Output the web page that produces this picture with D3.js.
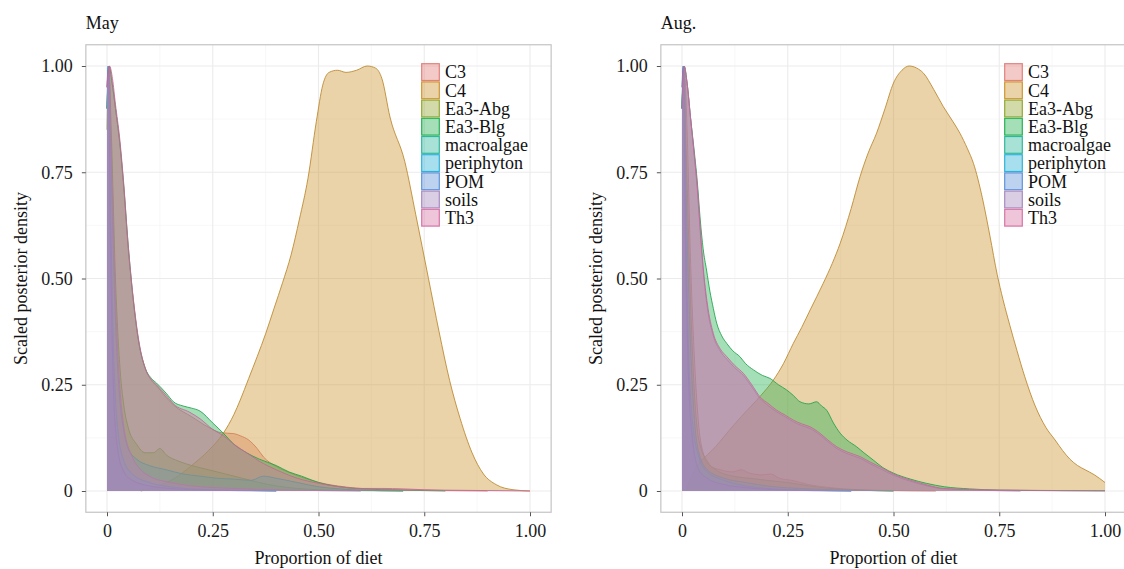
<!DOCTYPE html>
<html>
<head>
<meta charset="utf-8">
<script src="https://cdn.jsdelivr.net/npm/d3@7"></script>
<style>
  body { margin: 0; background: #fff; }
  svg { display: block; font-family: "Liberation Serif", "DejaVu Serif", serif; }
</style>
</head>
<body>
<div id="chart"></div>
<script>
// sources, in legend / drawing order
const sources = ["C3", "C4", "Ea3-Abg", "Ea3-Blg", "macroalgae", "periphyton", "POM", "soils", "Th3"];
const colors = ["#E2807D", "#CF9531", "#93A832", "#27B255", "#2FB89C", "#2FB2D8", "#5F93DA", "#A88ABF", "#D874A8"];
const xTicks = [0, 0.25, 0.5, 0.75, 1];
const yTicks = [0, 0.25, 0.5, 0.75, 1];

// May: [proportion, scaled density]
const mayC3 = [[0,0.9],[0.005,1],[0.012,0.96],[0.02,0.9],[0.03,0.82],[0.039,0.72],[0.05,0.57],[0.062,0.45],[0.075,0.35],[0.09,0.29],[0.105,0.26],[0.117,0.248],[0.14,0.22],[0.16,0.2],[0.2,0.175],[0.24,0.15],[0.27,0.137],[0.3,0.135],[0.315,0.13],[0.335,0.12],[0.355,0.1],[0.37,0.08],[0.4,0.058],[0.44,0.04],[0.48,0.026],[0.52,0.016],[0.56,0.01],[0.6,0.006],[0.7,0.003],[0.8,0.001],[0.9,0]];
const mayC4 = [[0.08,0],[0.12,0.012],[0.16,0.03],[0.2,0.06],[0.24,0.095],[0.275,0.136],[0.3,0.18],[0.315,0.214],[0.335,0.265],[0.355,0.316],[0.375,0.37],[0.395,0.43],[0.415,0.49],[0.435,0.555],[0.455,0.64],[0.475,0.735],[0.495,0.87],[0.51,0.955],[0.525,0.985],[0.545,0.99],[0.565,0.985],[0.59,0.99],[0.615,1],[0.635,0.995],[0.65,0.97],[0.669,0.88],[0.704,0.775],[0.73,0.65],[0.76,0.5],[0.785,0.375],[0.81,0.26],[0.835,0.17],[0.863,0.09],[0.89,0.04],[0.92,0.015],[0.96,0.003],[1,0]];
const mayEa3Abg = [[0,0.85],[0.004,1],[0.01,0.85],[0.02,0.5],[0.03,0.3],[0.04,0.2],[0.05,0.15],[0.07,0.11],[0.09,0.09],[0.11,0.09],[0.125,0.1],[0.14,0.085],[0.17,0.07],[0.2,0.06],[0.24,0.05],[0.28,0.04],[0.32,0.03],[0.36,0.02],[0.4,0.012],[0.45,0.006],[0.5,0.003],[0.6,0.001],[0.7,0]];
const mayEa3Blg = [[0,0.9],[0.005,1],[0.012,0.96],[0.02,0.9],[0.03,0.82],[0.039,0.725],[0.05,0.58],[0.062,0.45],[0.075,0.35],[0.09,0.29],[0.105,0.265],[0.117,0.254],[0.14,0.23],[0.157,0.21],[0.18,0.2],[0.2,0.195],[0.22,0.188],[0.25,0.16],[0.275,0.136],[0.3,0.11],[0.33,0.09],[0.36,0.075],[0.4,0.06],[0.43,0.045],[0.46,0.035],[0.5,0.02],[0.55,0.01],[0.6,0.005],[0.7,0.002],[0.8,0]];
const mayMacroalgae = [[0,0.9],[0.004,1],[0.01,0.75],[0.02,0.4],[0.03,0.22],[0.04,0.14],[0.05,0.1],[0.07,0.075],[0.1,0.06],[0.14,0.05],[0.18,0.04],[0.22,0.035],[0.26,0.03],[0.3,0.028],[0.34,0.025],[0.37,0.035],[0.4,0.03],[0.45,0.02],[0.5,0.01],[0.55,0.005],[0.6,0.002],[0.7,0]];
const mayPeriphyton = [[0,0.9],[0.003,1],[0.008,0.7],[0.015,0.35],[0.025,0.15],[0.04,0.07],[0.06,0.04],[0.1,0.02],[0.15,0.01],[0.2,0.005],[0.3,0.002],[0.4,0]];
const mayPOM = [[0,0.95],[0.003,1],[0.008,0.6],[0.015,0.25],[0.025,0.1],[0.04,0.045],[0.06,0.025],[0.1,0.012],[0.15,0.006],[0.2,0.003],[0.3,0.001],[0.4,0]];
const maySoils = [[0,0.95],[0.004,1],[0.01,0.8],[0.02,0.45],[0.03,0.25],[0.04,0.15],[0.06,0.08],[0.08,0.05],[0.1,0.035],[0.15,0.02],[0.2,0.012],[0.3,0.006],[0.4,0.003],[0.5,0.001],[0.6,0]];
const mayTh3 = [[0,0.95],[0.006,1],[0.013,0.97],[0.02,0.91],[0.03,0.83],[0.039,0.73],[0.05,0.58],[0.062,0.455],[0.075,0.355],[0.09,0.29],[0.105,0.262],[0.117,0.25],[0.14,0.225],[0.157,0.205],[0.196,0.185],[0.22,0.17],[0.25,0.145],[0.275,0.13],[0.3,0.11],[0.33,0.09],[0.36,0.07],[0.4,0.05],[0.45,0.03],[0.5,0.018],[0.55,0.01],[0.6,0.006],[0.65,0.006],[0.7,0.005],[0.75,0.003],[0.8,0.002],[0.9,0.001],[1,0]];

// Aug.
const augC3 = [[0,0.9],[0.005,1],[0.012,0.85],[0.02,0.55],[0.03,0.3],[0.04,0.15],[0.05,0.09],[0.065,0.06],[0.09,0.05],[0.12,0.045],[0.14,0.05],[0.16,0.042],[0.19,0.038],[0.21,0.04],[0.23,0.03],[0.26,0.025],[0.3,0.015],[0.35,0.008],[0.4,0.004],[0.5,0.001],[0.6,0]];
const augC4 = [[0.01,0],[0.025,0.04],[0.04,0.065],[0.06,0.085],[0.08,0.105],[0.106,0.136],[0.14,0.175],[0.184,0.222],[0.216,0.261],[0.24,0.3],[0.263,0.347],[0.283,0.385],[0.303,0.426],[0.334,0.489],[0.355,0.535],[0.374,0.583],[0.4,0.665],[0.421,0.74],[0.44,0.795],[0.46,0.842],[0.48,0.9],[0.5,0.96],[0.52,0.99],[0.537,1],[0.555,0.995],[0.571,0.983],[0.595,0.945],[0.618,0.904],[0.64,0.87],[0.657,0.842],[0.675,0.805],[0.689,0.771],[0.71,0.69],[0.728,0.6],[0.745,0.51],[0.759,0.45],[0.775,0.39],[0.792,0.33],[0.81,0.27],[0.835,0.2],[0.86,0.15],[0.882,0.12],[0.9,0.095],[0.917,0.075],[0.935,0.06],[0.953,0.05],[0.975,0.038],[1,0.02]];
const augEa3Abg = [[0,0.9],[0.004,1],[0.01,0.8],[0.02,0.45],[0.03,0.22],[0.04,0.12],[0.06,0.07],[0.08,0.05],[0.12,0.035],[0.16,0.03],[0.2,0.025],[0.25,0.02],[0.3,0.012],[0.35,0.006],[0.4,0.003],[0.5,0]];
const augEa3Blg = [[0,0.9],[0.005,1],[0.012,0.96],[0.02,0.88],[0.03,0.79],[0.036,0.73],[0.043,0.64],[0.05,0.57],[0.058,0.52],[0.066,0.47],[0.074,0.43],[0.082,0.395],[0.094,0.365],[0.106,0.347],[0.12,0.33],[0.137,0.316],[0.15,0.3],[0.169,0.285],[0.19,0.272],[0.208,0.265],[0.228,0.25],[0.247,0.238],[0.263,0.225],[0.279,0.21],[0.3,0.205],[0.318,0.21],[0.33,0.2],[0.342,0.19],[0.358,0.16],[0.374,0.136],[0.39,0.12],[0.413,0.104],[0.43,0.09],[0.452,0.073],[0.475,0.055],[0.5,0.042],[0.54,0.028],[0.578,0.018],[0.62,0.01],[0.68,0.005],[0.75,0.002],[0.85,0.001],[1,0]];
const augMacroalgae = [[0,0.9],[0.004,1],[0.01,0.7],[0.02,0.35],[0.03,0.16],[0.04,0.09],[0.06,0.05],[0.1,0.03],[0.15,0.02],[0.2,0.012],[0.3,0.005],[0.4,0.002],[0.5,0]];
const augPeriphyton = [[0,0.9],[0.003,1],[0.008,0.7],[0.015,0.35],[0.025,0.16],[0.04,0.08],[0.06,0.045],[0.1,0.025],[0.15,0.012],[0.2,0.006],[0.3,0.002],[0.4,0]];
const augPOM = [[0,0.95],[0.003,1],[0.008,0.6],[0.015,0.28],[0.025,0.12],[0.04,0.05],[0.06,0.03],[0.1,0.015],[0.15,0.008],[0.2,0.004],[0.3,0.001],[0.4,0]];
const augSoils = [[0,0.95],[0.005,1],[0.012,0.96],[0.02,0.88],[0.03,0.78],[0.036,0.71],[0.043,0.61],[0.05,0.52],[0.06,0.43],[0.074,0.365],[0.09,0.33],[0.106,0.31],[0.125,0.29],[0.145,0.272],[0.165,0.245],[0.184,0.218],[0.205,0.2],[0.224,0.186],[0.245,0.174],[0.263,0.163],[0.283,0.154],[0.303,0.147],[0.326,0.132],[0.345,0.116],[0.366,0.1],[0.39,0.088],[0.421,0.077],[0.445,0.064],[0.468,0.053],[0.5,0.037],[0.54,0.023],[0.58,0.012],[0.62,0.005],[0.7,0.002],[0.8,0]];
const augTh3 = [[0,0.9],[0.005,1],[0.012,0.96],[0.02,0.88],[0.03,0.78],[0.036,0.72],[0.043,0.62],[0.05,0.528],[0.06,0.44],[0.074,0.371],[0.09,0.335],[0.106,0.316],[0.125,0.295],[0.145,0.277],[0.165,0.25],[0.184,0.222],[0.205,0.205],[0.224,0.19],[0.245,0.178],[0.263,0.167],[0.283,0.158],[0.303,0.151],[0.326,0.136],[0.345,0.12],[0.366,0.104],[0.39,0.092],[0.421,0.081],[0.445,0.068],[0.468,0.057],[0.5,0.04],[0.539,0.026],[0.58,0.014],[0.618,0.006],[0.7,0.003],[0.8,0.002],[0.9,0.001],[1,0.001]];

const mayCurves = [mayC3, mayC4, mayEa3Abg, mayEa3Blg, mayMacroalgae, mayPeriphyton, mayPOM, maySoils, mayTh3];
const augCurves = [augC3, augC4, augEa3Abg, augEa3Blg, augMacroalgae, augPeriphyton, augPOM, augSoils, augTh3];

const W = 1124, H = 569;
const svg = d3.select("#chart").append("svg").attr("width", W).attr("height", H);

function drawPanel(title, curves, left, right, legendX) {
  const x = d3.scaleLinear().domain([0, 1]).range([left, right]);
  const y = d3.scaleLinear().domain([0, 1]).range([491, 66]);
  const x0 = x(-0.05), x1 = x(1.05), y0 = y(-0.05), y1 = y(1.05);
  const g = svg.append("g");

  // grid
  const minor = [0.125, 0.375, 0.625, 0.875];
  g.selectAll(".vminor").data(minor).join("line").attr("class", "vminor")
    .attr("x1", d => x(d)).attr("x2", d => x(d)).attr("y1", y1).attr("y2", y0)
    .attr("stroke", "#f3f3f3").attr("stroke-width", 0.6);
  g.selectAll(".hminor").data(minor).join("line").attr("class", "hminor")
    .attr("x1", x0).attr("x2", x1).attr("y1", d => y(d)).attr("y2", d => y(d))
    .attr("stroke", "#f3f3f3").attr("stroke-width", 0.6);
  g.selectAll(".vmajor").data(xTicks).join("line").attr("class", "vmajor")
    .attr("x1", d => x(d)).attr("x2", d => x(d)).attr("y1", y1).attr("y2", y0)
    .attr("stroke", "#ebebeb").attr("stroke-width", 1.1);
  g.selectAll(".hmajor").data(yTicks).join("line").attr("class", "hmajor")
    .attr("x1", x0).attr("x2", x1).attr("y1", d => y(d)).attr("y2", d => y(d))
    .attr("stroke", "#ebebeb").attr("stroke-width", 1.1);

  // densities
  const area = d3.area()
    .x(d => x(d[0])).y0(y(0)).y1(d => y(d[1]))
    .curve(d3.curveMonotoneX);
  const line = d3.line()
    .x(d => x(d[0])).y(d => y(d[1]))
    .curve(d3.curveMonotoneX);
  curves.forEach((c, i) => {
    g.append("path").attr("d", area(c))
      .attr("fill", colors[i]).attr("fill-opacity", 0.42);
    g.append("path").attr("d", line(c))
      .attr("fill", "none").attr("stroke", d3.color(colors[i]).darker(0.3))
      .attr("stroke-opacity", 0.85).attr("stroke-width", 1);
  });

  // border
  g.append("rect").attr("x", x0).attr("y", y1).attr("width", x1 - x0).attr("height", y0 - y1)
    .attr("fill", "none").attr("stroke", "#c4c4c4").attr("stroke-width", 1.2);

  // axes
  const fmt = d => d === 0 ? "0" : d3.format(".2f")(d);
  const ax = g.append("g").attr("transform", `translate(0,${y0})`)
    .call(d3.axisBottom(x).tickValues(xTicks).tickFormat(fmt).tickSize(4).tickPadding(8));
  const ay = g.append("g").attr("transform", `translate(${x0},0)`)
    .call(d3.axisLeft(y).tickValues(yTicks).tickFormat(fmt).tickSize(4).tickPadding(9));
  [ax, ay].forEach(a => {
    a.select(".domain").remove();
    a.selectAll(".tick line").attr("stroke", "#555");
    a.selectAll("text").attr("fill", "#1a1a1a").style("font-size", "18px")
      .style("font-family", "'Liberation Serif', serif");
  });

  // titles
  g.append("text").attr("x", x0).attr("y", 29).text(title)
    .style("font-size", "18px").attr("fill", "#111");
  g.append("text").attr("x", (x0 + x1) / 2).attr("y", 564).attr("text-anchor", "middle")
    .text("Proportion of diet").style("font-size", "18px").attr("fill", "#111");
  g.append("text").attr("transform", `translate(${x0 - 65},${(y0 + y1) / 2}) rotate(-90)`)
    .attr("text-anchor", "middle").attr("dy", "0.35em")
    .text("Scaled posterior density").style("font-size", "18px").attr("fill", "#111");

  // legend
  const keyH = 18.2;
  const lg = g.append("g").attr("transform", `translate(${legendX},63)`);
  sources.forEach((s, i) => {
    lg.append("rect").attr("x", 0.7).attr("y", i * keyH + 0.7).attr("width", 17.6).attr("height", keyH - 1.4)
      .attr("fill", colors[i]).attr("fill-opacity", 0.42)
      .attr("stroke", colors[i]).attr("stroke-width", 1.2);
    lg.append("text").attr("x", 24).attr("y", i * keyH + keyH / 2).attr("dy", "0.35em")
      .text(s).style("font-size", "18px").attr("fill", "#111");
  });
}

drawPanel("May", mayCurves, 107, 530, 421);
drawPanel("Aug.", augCurves, 682, 1105, 1004);
</script>
</body>
</html>
